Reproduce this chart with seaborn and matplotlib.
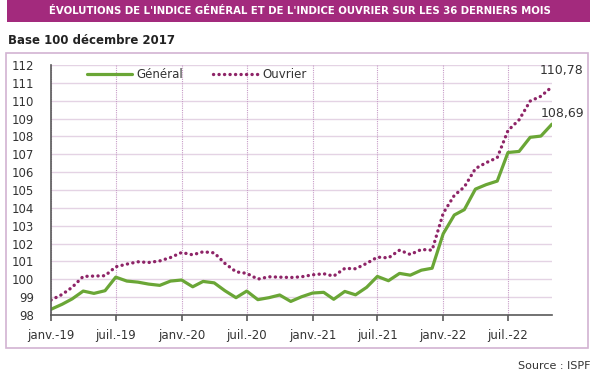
import pandas as pd
import numpy as np
import matplotlib.pyplot as plt
import matplotlib.patches as patches
import seaborn as sns

# données (janv. 2019 -> nov. 2022)
mois = pd.date_range("2019-01-01", periods=47, freq="MS")
general = [98.32, 98.6, 98.9, 99.34, 99.21, 99.36, 100.12, 99.9, 99.84, 99.73, 99.66, 99.9,
           99.96, 99.58, 99.88, 99.8, 99.36, 98.97, 99.34, 98.86, 98.97, 99.12, 98.76, 99.02,
           99.23, 99.27, 98.88, 99.32, 99.13, 99.55, 100.16, 99.92, 100.33, 100.23, 100.51, 100.62,
           102.55, 103.6, 103.9, 105.05, 105.3, 105.5, 107.1, 107.16, 107.95, 108.02, 108.69]
ouvrier = [98.84, 99.15, 99.55, 100.16, 100.18, 100.2, 100.7, 100.85, 100.98, 100.94, 101.03, 101.22,
           101.5, 101.37, 101.54, 101.48, 100.89, 100.42, 100.33, 100.01, 100.14, 100.12, 100.1, 100.14,
           100.25, 100.31, 100.18, 100.61, 100.59, 100.89, 101.24, 101.2, 101.63, 101.39, 101.67, 101.63,
           103.7, 104.7, 105.17, 106.2, 106.53, 106.81, 108.33, 108.93, 109.98, 110.25, 110.78]
tick_labels = ["janv.-19", "juil.-19", "janv.-20", "juil.-20", "janv.-21", "juil.-21", "janv.-22", "juil.-22"]
y_ticks = list(range(98, 113))

df = pd.DataFrame({"mois": mois, "Général": general, "Ouvrier": ouvrier})

sns.set_theme(style="white")
plt.rcParams['font.family'] = ['DejaVu Sans']

vert = "#6aa636"
violet = "#8e2467"
bandeau = "#a32a7d"
axe = "#5a5a5a"

fig = plt.figure(figsize=(6, 3.72), dpi=100)
ax = fig.add_axes([51/600, 1 - 315/372, (552 - 51)/600, (315 - 65)/372])

sns.lineplot(data=df, x="mois", y="Général", ax=ax, color=vert, linewidth=2.3, label="Général")
sns.lineplot(data=df, x="mois", y="Ouvrier", ax=ax, color=violet, linewidth=2.4,
             linestyle=(0, (0.05, 1.6)), dash_capstyle="round", label="Ouvrier")

ax.set_xlim(mois[0], mois[-1])
ax.set_ylim(98, 112)
ax.set_yticks(y_ticks)
ax.set_yticklabels([str(v) for v in y_ticks], fontsize=8.5, color="#333333")
ax.set_xticks(mois[::6])
ax.set_xticklabels(tick_labels, fontsize=8.5, color="#333333")
ax.set_xlabel("")
ax.set_ylabel("")

# grilles
for y in y_ticks:
    ax.axhline(y, color="#e4d3e4", linewidth=1, zorder=0)
for d in mois[::6]:
    ax.axvline(d, color="#c79cc7", linewidth=0.8, linestyle=(0, (1, 1)), zorder=0)

for s in ["top", "right"]:
    ax.spines[s].set_visible(False)
for s in ["left", "bottom"]:
    ax.spines[s].set_color(axe)
    ax.spines[s].set_linewidth(1.2)
ax.tick_params(axis="x", bottom=True, length=4, width=1.2, color=axe, pad=6)
ax.tick_params(axis="y", left=False, pad=6)

leg = ax.legend(loc="center left", bbox_to_anchor=(87/600, 1 - 75/372), bbox_transform=fig.transFigure,
                ncol=2, frameon=False, fontsize=8.5, handlelength=3.8, handletextpad=0.35,
                columnspacing=2.6, borderpad=0, borderaxespad=0)
for t in leg.get_texts():
    t.set_color("#333333")

# étiquettes des dernières valeurs
ax.annotate(f"{ouvrier[-1]:.2f}".replace(".", ","), xy=(mois[-1], ouvrier[-1]), xytext=(10, 16),
            textcoords="offset pixels", ha="center", va="center", fontsize=9, color="#333333",
            annotation_clip=False)
ax.annotate(f"{general[-1]:.2f}".replace(".", ","), xy=(mois[-1], general[-1]), xytext=(10, 11),
            textcoords="offset pixels", ha="center", va="center", fontsize=9, color="#333333",
            annotation_clip=False)

# bandeau de titre
fig.patches.append(patches.Rectangle((7/600, 1 - 22/372), 583/600, 22/372, transform=fig.transFigure,
                                     facecolor=bandeau, edgecolor="none"))
fig.text(300/600, 1 - 11/372, "ÉVOLUTIONS DE L'INDICE GÉNÉRAL ET DE L'INDICE OUVRIER SUR LES 36 DERNIERS MOIS",
         ha="center", va="center", fontsize=7.3, fontweight="bold", color="white")
fig.text(8/600, 1 - 40/372, "Base 100 décembre 2017", ha="left", va="center", fontsize=8.5,
         fontweight="bold", color="#222222")

# cadre
fig.patches.append(patches.Rectangle((6/600, 1 - 348/372), 582/600, 295/372, transform=fig.transFigure,
                                     facecolor="none", edgecolor="#d2b3d2", linewidth=1.2))

fig.text(590/600, 1 - 371/372, "Source : ISPF", ha="right", va="bottom", fontsize=8, color="#333333")

plt.savefig("out.png", dpi=100)
